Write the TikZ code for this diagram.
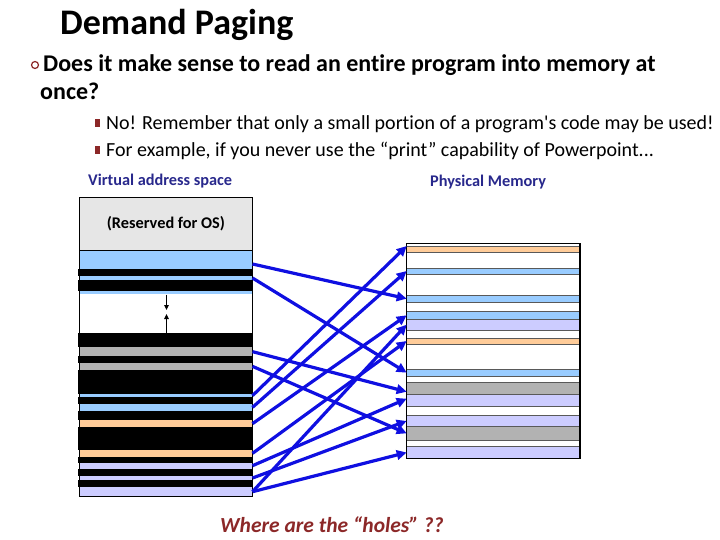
\documentclass[tikz,border=0pt]{standalone}
\usepackage{fontspec}
\setmainfont{Carlito}[Ligatures={TeXOff,CommonOff}]
\usetikzlibrary{arrows.meta}
\definecolor{lb}{RGB}{153,204,255}
\definecolor{lav}{RGB}{204,204,255}
\definecolor{org}{RGB}{255,204,153}
\definecolor{gr}{RGB}{178,178,178}
\definecolor{res}{RGB}{230,230,230}
\definecolor{arblue}{RGB}{15,15,225}
\definecolor{navy}{RGB}{40,40,140}
\definecolor{maroon}{RGB}{140,40,40}
\newcommand\memband[7][]{%
  \pgfmathsetmacro\memW{#5-#4}\pgfmathsetmacro\memH{#7-#6}%
  \node[band,fill=#3,minimum width=\memW pt,minimum height=\memH pt,#1] (#2) at ({(#4+#5)/2},{(#6+#7)/2}) {};}
\begin{document}
\begin{tikzpicture}[x=1pt,y=-1pt,
  band/.style={rectangle,inner sep=0pt,outer sep=0pt,draw=none},
  pband/.style={draw=black!65,line width=0.6pt},
  txt/.style={inner sep=0pt,anchor=base west},
  varrow/.style={draw=arblue,line width=3.2pt,-{Triangle[length=10pt,width=9.5pt]}},
  small/.style={line width=1.2pt,-{Triangle[length=5pt,width=4.5pt]}}]
\useasboundingbox (0,0) rectangle (720,540);
% title and text
\node[txt,font=\bfseries\fontsize{36}{40}\selectfont] (title) at (60,35) {Demand Paging};
\draw[maroon,line width=1.2pt] (35,65) circle (3.5);
\node[txt,font=\bfseries\fontsize{24}{28}\selectfont] (b1) at (43,72) {Does it make sense to read an entire program into memory at};
\node[txt,font=\bfseries\fontsize{24}{28}\selectfont] (b1b) at (40,100) {once?};
\fill[maroon] (95,119) rectangle (100,127);
\fill[maroon] (95,146) rectangle (100,154);
\node[txt,font=\fontsize{20}{24}\selectfont] (s1) at (106,130) {No! Remember that only a small portion of a program's code may be used!};
\node[txt,font=\fontsize{20}{24}\selectfont] (s2) at (106,157) {For example, if you never use the “print” capability of Powerpoint...};
\node[txt,font=\bfseries\fontsize{16.3}{19}\selectfont,text=navy] (vlab) at (88,186) {Virtual address space};
\node[txt,font=\bfseries\fontsize{16.3}{19}\selectfont,text=navy] (plab) at (430,187) {Physical Memory};
% virtual column
\memband{vres}{res}{79.3}{252.5}{197.3}{250.7}
\memband{v1}{lb}{79.3}{252.5}{250.7}{269.3}
\memband{k1}{black}{77.5}{252.5}{269.3}{276}
\memband{v2}{lb}{79.3}{252.5}{276}{280}
\memband{k2}{black}{77.5}{252.5}{280}{290.7}
\memband{v3}{lb}{79.3}{252.5}{290.7}{294}
\memband{vgap}{white}{79.3}{252.5}{294}{332.7}
\memband{k3}{black}{77.5}{252.5}{332.7}{347.3}
\memband{v4}{gr}{79.3}{252.5}{347.3}{356}
\memband{k4}{black}{77.5}{252.5}{356}{362.7}
\memband{v5}{gr}{79.3}{252.5}{362.7}{370}
\memband{k5}{black}{77.5}{252.5}{370}{394}
\memband{v6}{lb}{79.3}{252.5}{394}{397.3}
\memband{k6}{black}{77.5}{252.5}{397.3}{404}
\memband{v7}{lb}{79.3}{252.5}{404}{410.7}
\memband{k7}{black}{77.5}{252.5}{410.7}{420}
\memband{v8}{org}{79.3}{252.5}{420}{427.3}
\memband{k8}{black}{77.5}{252.5}{427.3}{450}
\memband{v9}{org}{79.3}{252.5}{450}{456.7}
\memband{k9}{black}{77.5}{252.5}{456.7}{462.7}
\memband{v10}{lav}{79.3}{252.5}{462.7}{468.7}
\memband{k10}{black}{77.5}{252.5}{468.7}{476}
\memband{v11}{lav}{79.3}{252.5}{476}{480}
\memband{k11}{black}{77.5}{252.5}{480}{486.7}
\memband{v12}{lav}{79.3}{252.5}{486.7}{496.7}
\draw[line width=0.7pt] (79.3,197.3) rectangle (252.5,496.7);
\draw[line width=0.7pt] (79.3,250.7) -- (252.5,250.7);
\node[font=\bfseries\fontsize{16.3}{19}\selectfont,inner sep=0pt] (restxt) at (vres) {(Reserved for OS)};
\coordinate (hd) at (166.5,294.5);
\coordinate (hdt) at (166.5,310);
\coordinate (hu) at (166.5,332.5);
\coordinate (hut) at (166.5,314);
\draw[small] (hd) -- (hdt);
\draw[small] (hu) -- (hut);
% physical column
\memband{pmem}{white}{406.7}{580}{243.3}{458.3}
\memband[pband]{p1}{org}{406.7}{580}{246}{252}
\memband[pband]{p2}{lb}{406.7}{580}{268}{274}
\memband[pband]{p3}{lb}{406.7}{580}{295.3}{302}
\memband[pband]{p4}{lb}{406.7}{580}{311.3}{319.3}
\memband[pband]{p5}{lav}{406.7}{580}{319.3}{330}
\memband[pband]{p6}{org}{406.7}{580}{338}{344}
\memband[pband]{p7}{lb}{406.7}{580}{369.3}{376}
\memband[pband]{p8}{gr}{406.7}{580}{382.7}{394.7}
\memband[pband]{p9}{lav}{406.7}{580}{394.7}{406.7}
\memband[pband]{p10}{lav}{406.7}{580}{415.3}{426.7}
\memband[pband]{p11}{gr}{406.7}{580}{426.7}{440}
\memband[pband]{p12}{lav}{406.7}{580}{446.7}{458.3}
\draw[line width=1.5pt] (pmem.north west) rectangle (pmem.south east);
% mapping arrows
\draw[varrow] ([yshift=-4pt]v1.east) -- (p3.west);
\draw[varrow] (v2.east) -- (p7.west);
\draw[varrow] (v4.east) -- ([yshift=-3pt]p8.west);
\draw[varrow] (v5.east) -- (p11.west);
\draw[varrow] (v6.east) -- ([yshift=3pt]p1.west);
\draw[varrow] (v7.east) -- (p2.west);
\draw[varrow] (v8.east) -- (p4.west);
\draw[varrow] (v9.east) -- (p6.west);
\draw[varrow] (v10.east) -- ([yshift=2pt]p9.west);
\draw[varrow] (v11.east) -- (p10.west);
\draw[varrow] (v12.east) -- (p5.west);
\draw[varrow] (v12.east) -- (p12.west);
\node[txt,font=\bfseries\itshape\fontsize{21.5}{25}\selectfont,text=maroon] (holes) at (220,532) {Where are the “holes” ??};
\end{tikzpicture}
\end{document}
